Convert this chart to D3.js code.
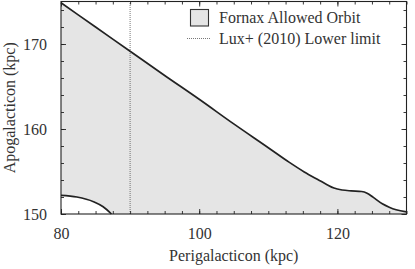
<!DOCTYPE html>
<html><head><meta charset="utf-8">
<script src="https://cdn.jsdelivr.net/npm/d3@7"></script>
</head><body style="margin:0">
<svg id="c" width="415" height="269" style="display:block;background:#fff"></svg>
<script>
// Data
const upperX = [80, 85, 90, 95, 100, 105, 110, 113, 115.2, 117.4, 118.5, 119.5, 120.7, 122, 123.5, 124.3, 125.2, 126.5, 127.5, 128.5, 130];
const upperY = [174.85, 172.0, 169.15, 166.3, 163.5, 160.6, 157.8, 156.1, 154.95, 153.95, 153.45, 153.05, 152.82, 152.72, 152.65, 152.45, 151.95, 151.2, 150.8, 150.5, 150.25];
const lowerX = [80, 82.3, 84.7, 86.1, 87.3];
const lowerY = [152.2, 152.0, 151.45, 150.85, 150.0];
const luxLimit = 90;
const xTicks = [80, 100, 120];
const yTicks = [150, 160, 170];
const legendLabels = ["Fornax Allowed Orbit", "Lux+ (2010) Lower limit"];
const xTitle = "Perigalacticon (kpc)";
const yTitle = "Apogalacticon (kpc)";

const svg = d3.select("#c");
const L = 61, R = 406.5, T = 1.5, B = 214;
const x = d3.scaleLinear().domain([80, 130]).range([L, R]);
const y = d3.scaleLinear().domain([150, 175]).range([B, T]);
const ink = "#222";
const txt = "#333";
const fs = 16;
const FF = "Liberation Serif";

const upper = upperX.map((v, i) => [v, upperY[i]]);
const lower = lowerX.map((v, i) => [v, lowerY[i]]);

const curve = d3.curveMonotoneX;
const area = d3.area().x(d => x(d[0])).y0(y(150)).y1(d => y(d[1])).curve(curve);
const line = d3.line().x(d => x(d[0])).y(d => y(d[1])).curve(curve);

svg.append("path").attr("d", area(upper)).attr("fill", "#e5e5e5");
svg.append("path").attr("d", area(lower)).attr("fill", "#fff");

svg.append("line").attr("x1", x(luxLimit)).attr("x2", x(luxLimit)).attr("y1", y(150)).attr("y2", y(175))
  .attr("stroke", "#555").attr("stroke-width", 0.8).attr("stroke-dasharray", "1,1");

svg.append("path").attr("d", line(upper)).attr("fill", "none").attr("stroke", ink).attr("stroke-width", 1.7);
svg.append("path").attr("d", line(lower)).attr("fill", "none").attr("stroke", ink).attr("stroke-width", 1.7);

function serif(sel) {
  return sel.attr("font-family", FF).style("font-family", "'Liberation Serif', serif")
    .attr("font-size", fs).attr("fill", txt);
}
function styleAxis(g) {
  g.attr("font-family", FF);
  g.select(".domain").remove();
  g.selectAll("line").attr("stroke", ink).attr("stroke-width", 0.9);
  g.selectAll("text").call(serif);
}
const xMinor = d3.range(80, 130.01, 2.5);
const yMinor = d3.range(150, 175.01, 2);
svg.append("g").attr("transform", `translate(0,${B})`)
  .call(d3.axisBottom(x).tickValues(xMinor).tickSize(-3).tickFormat("")).call(styleAxis);
svg.append("g").attr("transform", `translate(0,${T})`)
  .call(d3.axisTop(x).tickValues(xMinor).tickSize(-3).tickFormat("")).call(styleAxis);
svg.append("g").attr("transform", `translate(0,${B})`)
  .call(d3.axisBottom(x).tickValues(xTicks).tickSizeInner(-5).tickSizeOuter(0).tickPadding(14).tickFormat(d3.format("d"))).call(styleAxis);
svg.append("g").attr("transform", `translate(0,${T})`)
  .call(d3.axisTop(x).tickValues(xTicks).tickSize(-5).tickFormat("")).call(styleAxis);
svg.append("g").attr("transform", `translate(${L},0)`)
  .call(d3.axisLeft(y).tickValues(yMinor).tickSize(-3).tickFormat("")).call(styleAxis);
svg.append("g").attr("transform", `translate(${R},0)`)
  .call(d3.axisRight(y).tickValues(yMinor).tickSize(-3).tickFormat("")).call(styleAxis);
svg.append("g").attr("transform", `translate(${L},0)`)
  .call(d3.axisLeft(y).tickValues(yTicks).tickSizeInner(-5).tickSizeOuter(0).tickPadding(14).tickFormat(d3.format("d"))).call(styleAxis);
svg.append("g").attr("transform", `translate(${R},0)`)
  .call(d3.axisRight(y).tickValues(yTicks).tickSize(-5).tickFormat("")).call(styleAxis);

svg.append("rect").attr("x", L).attr("y", T).attr("width", R - L).attr("height", B - T)
  .attr("fill", "none").attr("stroke", ink).attr("stroke-width", 1.1);

svg.append("text").attr("x", (L + R) / 2).attr("y", 261).attr("text-anchor", "middle").call(serif).text(xTitle);
svg.append("text").attr("transform", `translate(15,${(T + B) / 2}) rotate(-90)`).attr("text-anchor", "middle").call(serif).text(yTitle);

const lg = svg.append("g");
lg.append("rect").attr("x", 190.5).attr("y", 9.5).attr("width", 18).attr("height", 16.5)
  .attr("fill", "#e5e5e5").attr("stroke", "#333").attr("stroke-width", 1.1);
lg.append("text").attr("x", 219).attr("y", 23).call(serif).text(legendLabels[0]);
lg.append("line").attr("x1", 187).attr("x2", 211).attr("y1", 38.5).attr("y2", 38.5)
  .attr("stroke", "#555").attr("stroke-width", 0.8).attr("stroke-dasharray", "1,1");
lg.append("text").attr("x", 219).attr("y", 44).call(serif).text(legendLabels[1]);
</script>
</body></html>
